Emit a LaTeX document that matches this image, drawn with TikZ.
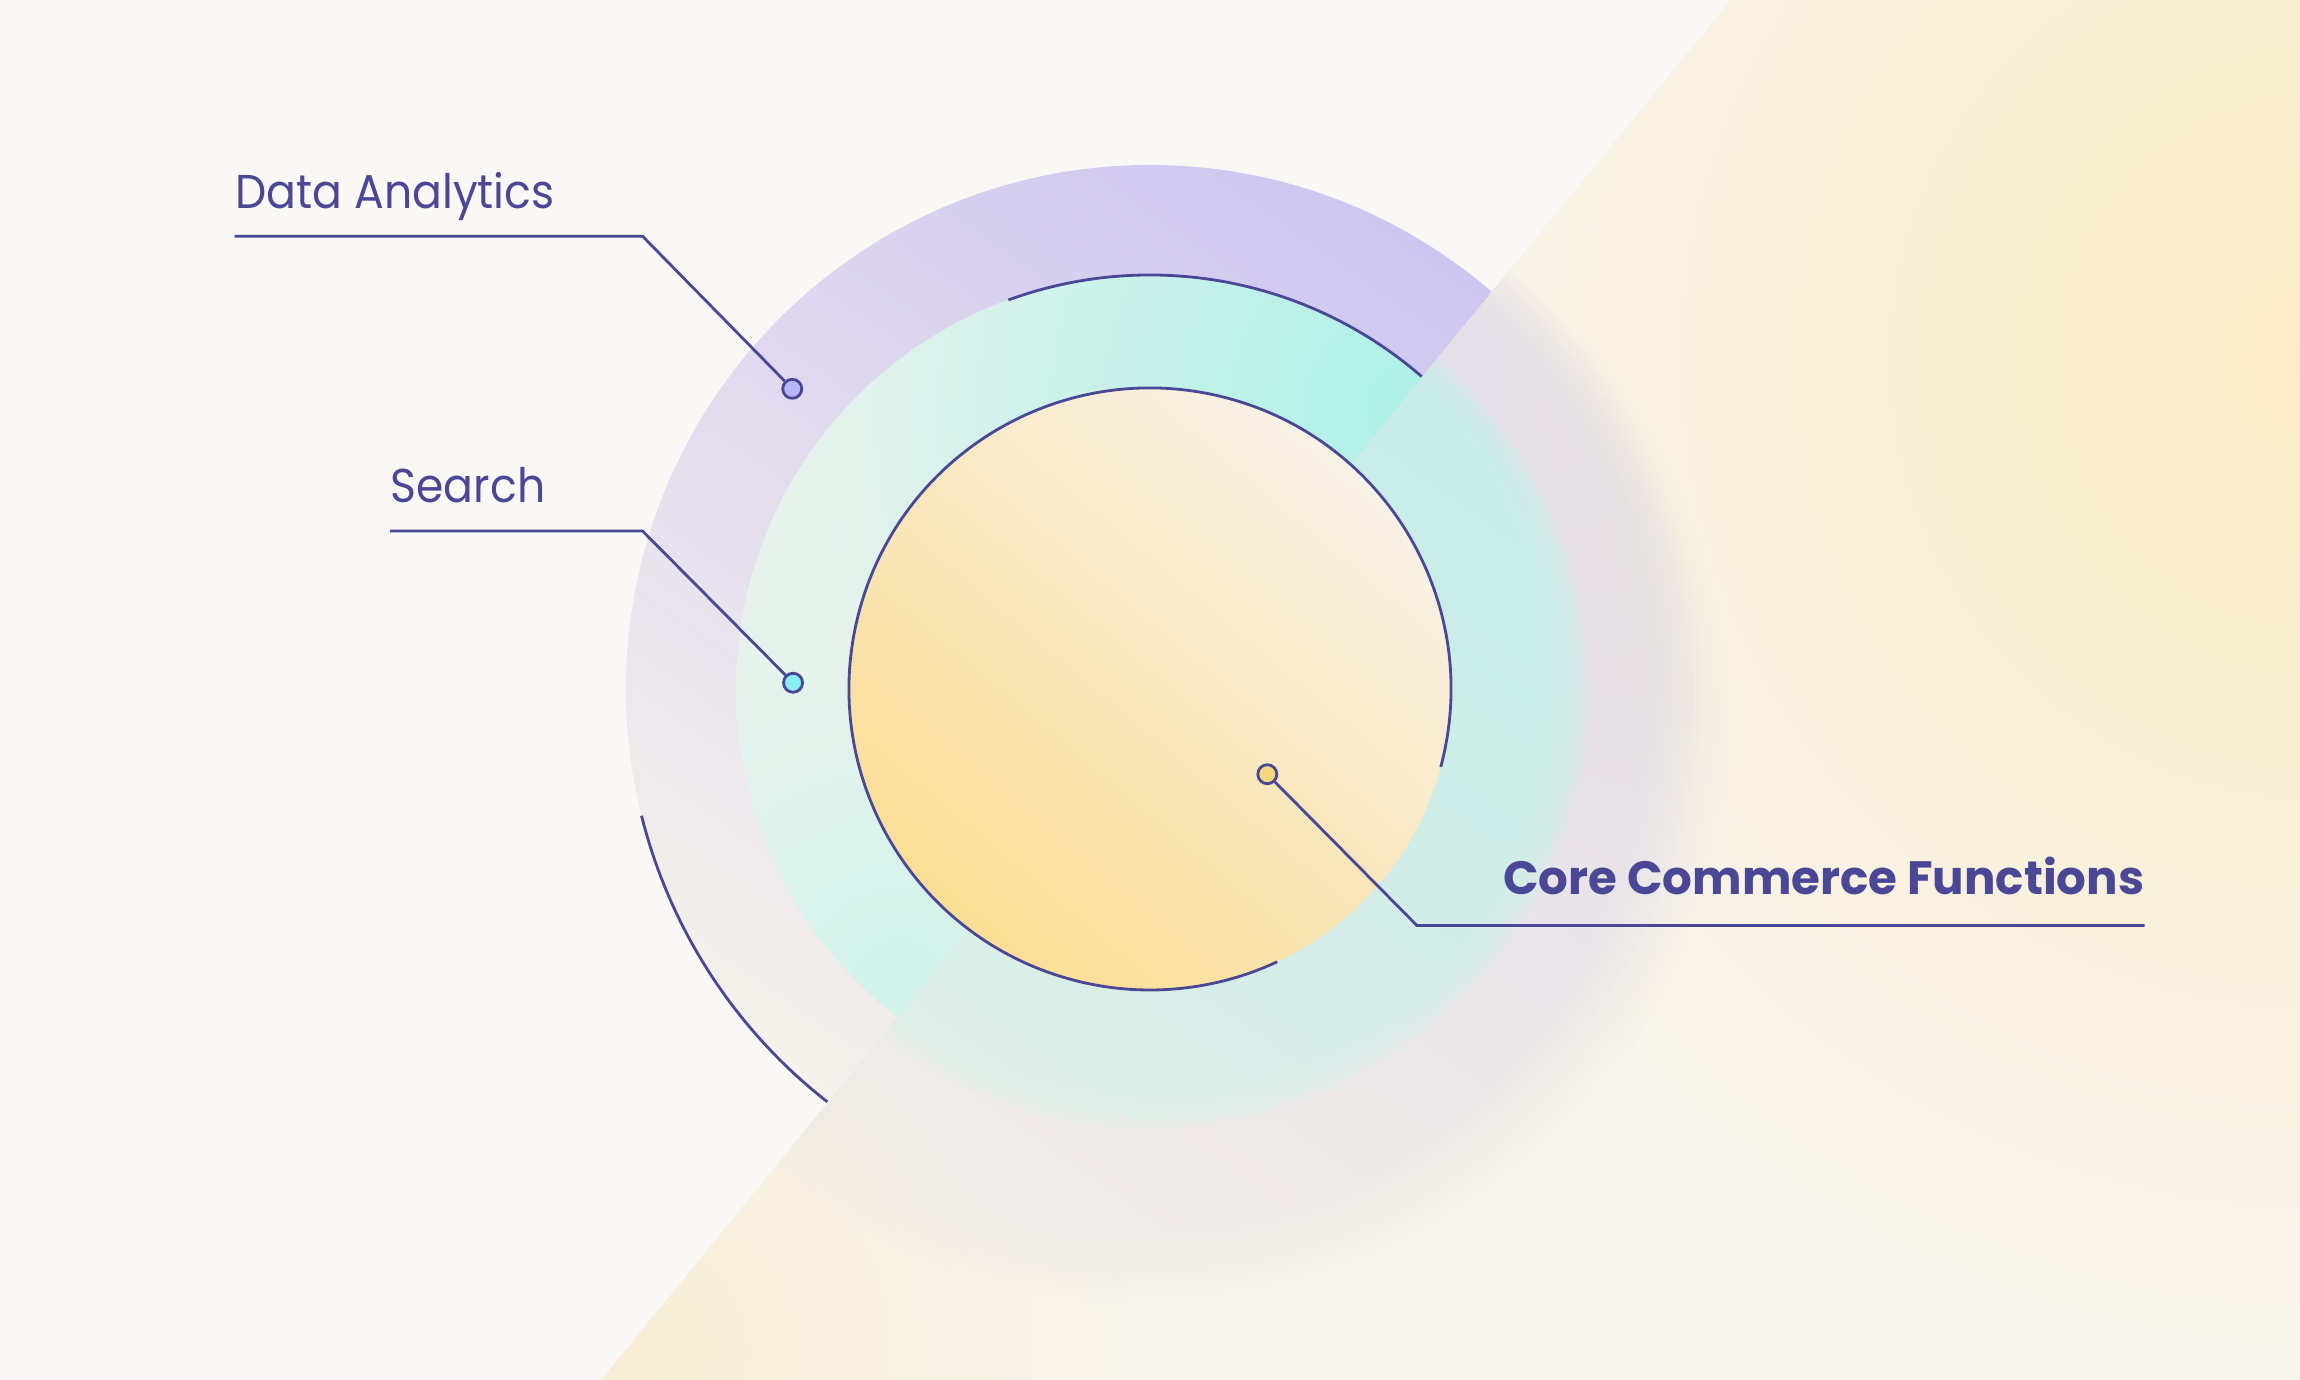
\documentclass[tikz,border=0pt]{standalone}
\usepackage{fontspec}
\setmainfont{Poppins}
\newfontfamily\lblfont[FakeStretch=0.93]{Poppins}

\definecolor{bgbase}{HTML}{F9F8F4}
\definecolor{navy}{HTML}{4A4797}
\definecolor{lavender}{HTML}{CDC6F0}
\definecolor{beige}{HTML}{F5F1EB}
\definecolor{tealA}{HTML}{ABF1E6}
\definecolor{tealB}{HTML}{E8F2EC}
\definecolor{tealC}{HTML}{D0F3EA}
\definecolor{cream}{HTML}{F8F1E6}
\definecolor{butter}{HTML}{F9EDD2}
\definecolor{yolk}{HTML}{FADE94}
\definecolor{panelA}{HTML}{F8F5EE}
\definecolor{panelB}{HTML}{FBEBC4}
\definecolor{panelC}{HTML}{F8EED6}
\definecolor{lavHaze}{HTML}{E4DEEA}
\definecolor{greyHaze}{HTML}{F0ECE8}
\definecolor{tealHaze}{HTML}{C4EFE6}
\definecolor{tealHazeB}{HTML}{DFF1EA}
\definecolor{dotLav}{HTML}{BAB6F6}
\definecolor{dotCyan}{HTML}{88EEF0}
\definecolor{dotYel}{HTML}{F7D77A}

\tikzset{
  leader/.style={draw=navy, line width=0.8pt},
  pin/.style={circle, draw=navy, line width=0.8pt, inner sep=0pt, minimum size=0.19cm},
  lbl/.style={text=navy, inner sep=0pt, font=\lblfont\fontsize{13.5}{16}\selectfont},
  veil/.style={opacity=0.12}
}

\begin{document}
\begin{tikzpicture}
\useasboundingbox (0,0) rectangle (23,13.8);
\fill[bgbase] (0,0) rectangle (23,13.8);
\coordinate (c) at (11.5,6.91);
\begin{scope}
\clip (0,0) -- (6.01,0) -- (17.31,13.8) -- (0,13.8) -- cycle;
\shade[top color=lavender, bottom color=beige, shading angle=-35] (c) circle (5.24);
\begin{scope}
\clip (c) circle (4.14);
\fill[tealB] (c) circle (4.14);
\shade[inner color=tealA, outer color=tealB] ([shift={(45:3.9)}]c) circle (6.5);
\shade[inner color=tealC, outer color=tealB] ([shift={(230:3.9)}]c) circle (3.6);
\end{scope}
\end{scope}
\begin{scope}
\clip (6.01,0) -- (23,0) -- (23,13.8) -- (17.31,13.8) -- cycle;
\fill[panelA] (0,0) rectangle (23,13.8);
\shade[inner color=panelB, outer color=panelA] (23.3,10.2) circle (10);
\shade[inner color=panelC, outer color=panelA] (6.4,0.3) circle (5);
\fill[greyHaze] (11.5,6.55) circle (4.4);
\foreach \k in {1,...,20}
  \fill[greyHaze, veil] (11.5,6.55) circle ({4.4+0.07*\k});
\shade[top color=lavHaze, bottom color=greyHaze, shading angle=-35] (c) circle (4.3);
\foreach \k in {1,...,20}
  \shade[top color=lavHaze, bottom color=greyHaze, shading angle=-35, veil] (c) circle ({4.3+0.06*\k});
\foreach \k in {0,...,16} {
  \begin{scope}
  \clip (c) circle ({3.6+0.05*\k});
  \shade[top color=tealHaze, bottom color=tealHazeB, shading angle=-35, opacity=0.25] (c) circle (4.45);
  \end{scope}
}
\end{scope}
\shade[top color=cream, middle color=butter, bottom color=yolk, shading angle=-40] (c) circle (3.01);

\draw[leader] ([shift={(49:4.14)}]c) arc[start angle=49, end angle=110, radius=4.14];
\draw[leader] ([shift={(194:5.24)}]c) arc[start angle=194, end angle=232, radius=5.24];
\draw[leader] ([shift={(-15:3.01)}]c) arc[start angle=-15, end angle=295, radius=3.01];

\node[pin, fill=dotLav] (dataDot) at ([shift={(140:4.67)}]c) {};
\node[pin, fill=dotCyan] (searchDot) at ([shift={(179:3.57)}]c) {};
\node[pin, fill=dotYel] (coreDot) at ([shift={(-36:1.45)}]c) {};

\coordinate (dataBend) at (6.425,11.438);
\coordinate (dataEnd) at (2.347,11.438);
\coordinate (searchBend) at (6.425,8.49);
\coordinate (searchEnd) at (3.902,8.49);
\coordinate (coreBend) at (14.17,4.544);
\coordinate (coreEnd) at (21.445,4.544);

\draw[leader] (dataDot) -- (dataBend) -- (dataEnd);
\draw[leader] (searchDot) -- (searchBend) -- (searchEnd);
\draw[leader] (coreDot) -- (coreBend) -- (coreEnd);

\node[lbl, anchor=base west] (dataLbl) at (2.35,11.71) {Data Analytics};
\node[lbl, anchor=base west] (searchLbl) at (3.90,8.77) {Search};
\node[lbl, anchor=base east, font=\fontsize{13.3}{16}\selectfont\bfseries] (coreLbl) at (21.45,4.85) {Core Commerce Functions};
\end{tikzpicture}
\end{document}
